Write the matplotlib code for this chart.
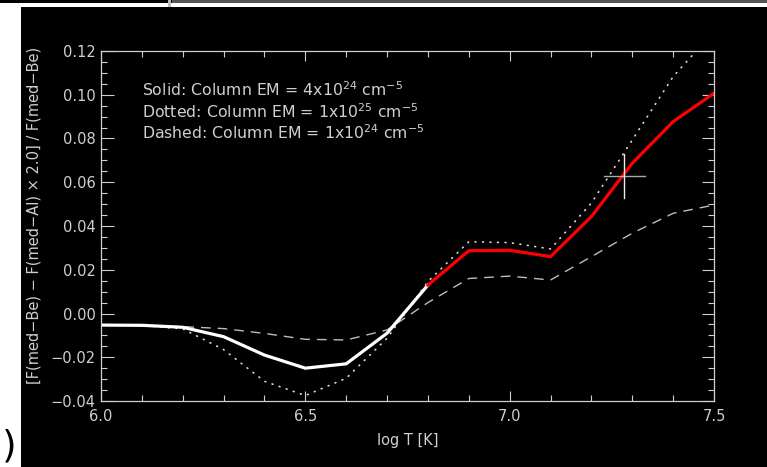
import matplotlib
matplotlib.use("Agg")
import matplotlib.pyplot as plt
from matplotlib.patches import Rectangle
from matplotlib.ticker import MultipleLocator, FuncFormatter

# ---- data ----
logT = [6.0, 6.1, 6.2, 6.3, 6.4, 6.5, 6.6, 6.7, 6.8, 6.9, 7.0, 7.1, 7.2, 7.3, 7.4, 7.5]
solid = [-0.0053, -0.0054, -0.0063, -0.0106, -0.0190, -0.0250, -0.0230, -0.0090, 0.0130,
         0.0287, 0.0289, 0.0260, 0.0443, 0.0687, 0.0877, 0.1007]
dotted = [-0.0053, -0.0055, -0.0070, -0.0165, -0.0310, -0.0375, -0.0296, -0.0113, 0.0146,
          0.0328, 0.0324, 0.0295, 0.0505, 0.0793, 0.1083, 0.1290]
dashed = [-0.0053, -0.0056, -0.0060, -0.0069, -0.0091, -0.0118, -0.0121, -0.0075, 0.0050,
          0.0160, 0.0171, 0.0153, 0.0260, 0.0367, 0.0458, 0.0496]
red_start = 6.8
cross_x, cross_y = 7.28, 0.063
cross_dx, cross_dy = 0.05, 0.010
legend_lines = [
    r"Solid: Column EM = 4x10$^{24}$ cm$^{-5}$",
    r"Dotted: Column EM = 1x10$^{25}$ cm$^{-5}$",
    r"Dashed: Column EM = 1x10$^{24}$ cm$^{-5}$",
]
xlabel = "log T [K]"
ylabel = "[F(med\u2212Be) \u2212 F(med\u2212Al) \u00d7 2.0] / F(med\u2212Be)"

W, H = 767, 467
plt.rcParams['font.family'] = ['DejaVu Sans']
plt.rcParams['mathtext.default'] = 'regular'
fig = plt.figure(figsize=(W / 100, H / 100), dpi=100, facecolor='black')

def px_rect(x0, y0, x1, y1, color):
    fig.add_artist(Rectangle((x0 / W, 1 - y1 / H), (x1 - x0) / W, (y1 - y0) / H,
                             transform=fig.transFigure, facecolor=color,
                             edgecolor='none', zorder=0))

# screenshot framing
px_rect(0, 3, W, 7, 'white')
px_rect(0, 3, 21, H, 'white')
px_rect(172, 0, W, 3, '#555555')
px_rect(168, 0, 171, 7, '#bbbbbb')
fig.text(2 / W, 1 - 446 / H, ")", fontsize=27, color='black', ha='left', va='center')

ax = fig.add_axes([101 / W, 1 - 401 / H, (714 - 101) / W, (401 - 51) / H])
ax.set_facecolor('black')
fg = '#cfcfcf'

ax.plot(logT, dotted, color='#dddddd', lw=1.2, linestyle=(0, (0.5, 4.0)), dash_capstyle='round')
ax.plot(logT, dashed, color='#bdbdbd', lw=1.0, linestyle=(0, (7, 5)))

iw = [i for i, t in enumerate(logT) if t <= red_start + 1e-9]
ir = [i for i, t in enumerate(logT) if t >= red_start - 1e-9]
ax.plot([logT[i] for i in iw], [solid[i] for i in iw], color='white', lw=2.3, solid_joinstyle='miter')
ax.plot([logT[i] for i in ir], [solid[i] for i in ir], color='#ff0000', lw=2.3, solid_joinstyle='miter')

ax.plot([cross_x - cross_dx, cross_x + cross_dx], [cross_y, cross_y], color='#aaaaaa', lw=1.0)
ax.plot([cross_x, cross_x], [cross_y - cross_dy, cross_y + cross_dy], color='#eeeeee', lw=1.0)

ax.set_xlim(6.0, 7.5)
ax.set_ylim(-0.04, 0.12)
ax.xaxis.set_major_locator(MultipleLocator(0.5))
ax.xaxis.set_minor_locator(MultipleLocator(0.1))
ax.yaxis.set_major_locator(MultipleLocator(0.02))
ax.yaxis.set_minor_locator(MultipleLocator(0.005))
ax.xaxis.set_major_formatter(FuncFormatter(lambda v, p: f"{v:.1f}"))
ax.yaxis.set_major_formatter(FuncFormatter(lambda v, p: f"{v:.2f}".replace("-", "\u2212")))

for s in ax.spines.values():
    s.set_color(fg)
    s.set_linewidth(0.9)
ax.tick_params(axis='both', which='both', direction='in', top=True, right=True,
               colors=fg, labelcolor=fg, width=0.8, labelsize=10.5)
ax.tick_params(axis='x', which='major', length=7, pad=6)
ax.tick_params(axis='x', which='minor', length=4)
ax.tick_params(axis='y', which='major', length=9, pad=4)
ax.tick_params(axis='y', which='minor', length=4.5)

ax.set_xlabel(xlabel, color=fg, fontsize=10.5, labelpad=6)
ax.set_ylabel(ylabel, color=fg, fontsize=10.5)
ax.yaxis.set_label_coords(-0.097, 0.53)

for i, t in enumerate(legend_lines):
    ax.text(142 / W, 1 - (90 + 21.5 * i) / H, t, transform=fig.transFigure,
            color=fg, fontsize=11.3, ha='left', va='center')

fig.savefig('out.png', dpi=100, facecolor='black')
